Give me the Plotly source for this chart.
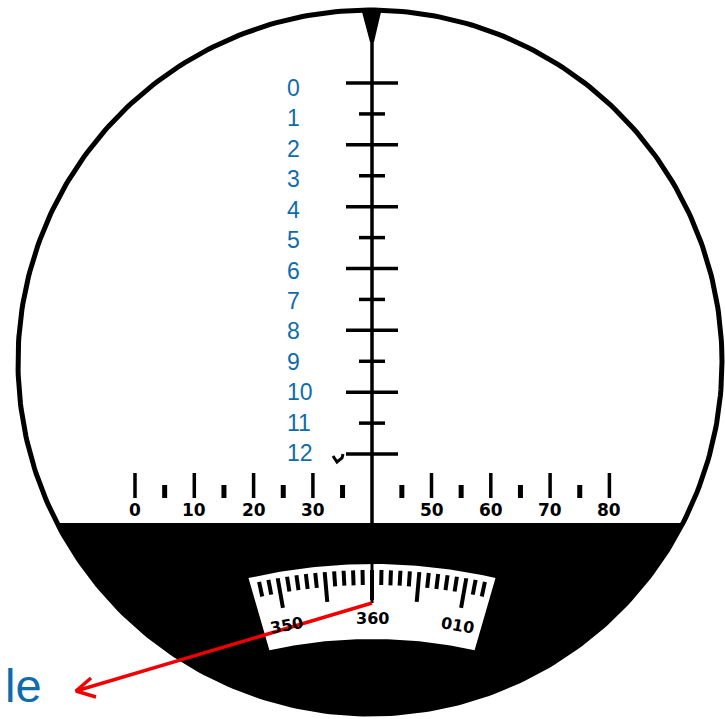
import numpy as np
import plotly.graph_objects as go

# Reticle readings
stadia_labels = ["0", "1", "2", "3", "4", "5", "6", "7", "8", "9", "10", "11", "12"]
stadia_values = [0, 1, 2, 3, 4, 5, 6, 7, 8, 9, 10, 11, 12]
range_major = [0, 10, 20, 30, 50, 60, 70, 80]
range_minor = [5, 15, 25, 35, 45, 55, 65, 75]
compass_minor = [-12, -11, -9, -8, -7, -6, -4, -3, -2, -1, 1, 2, 3, 4, 6, 7, 8, 9, 11, 12]
compass_major = [-10, -5, 0, 5, 10]
compass_labels = ["350", "360", "010"]
compass_label_deg = [-10, 0, 10]
callout_text = "le"

BLUE = "#0f6cab"
CX, CY, R = 370, 362, 352
AXIS_X, HORIZON = 372, 523
DIAL_Y = 1113


def sy(v):
    return 83 + v * 30.92


def label_y(v):
    return 88 + v * 30.42


def sx(v):
    return 135 + v * 5.93


def dial(r, deg):
    a = np.radians(deg)
    return AXIS_X + r * np.sin(a), DIAL_Y - r * np.cos(a)


fig = go.Figure()


def line(xs, ys, w=3, color="black"):
    fig.add_trace(go.Scatter(x=xs, y=ys, mode="lines", hoverinfo="skip",
                             line=dict(color=color, width=w), showlegend=False))


def fill(xs, ys, color="black"):
    fig.add_trace(go.Scatter(x=xs, y=ys, mode="lines", fill="toself", fillcolor=color,
                             hoverinfo="skip", line=dict(color=color, width=0), showlegend=False))


# Ground (black segment below the horizon)
half = np.degrees(np.arccos((HORIZON - CY) / R))
t = np.radians(np.linspace(-half, half, 200))
fill(CX + R * np.sin(t), CY + R * np.cos(t), "black")

# Field of view
t = np.linspace(0, 2 * np.pi, 400)
line(CX + R * np.cos(t), CY + R * np.sin(t), 5)

# Compass window
d = np.linspace(-13, 13, 60)
top = dial(549, d)
d2 = np.linspace(12.5, -12.5, 60)
bot = dial(474, d2)
fill(np.r_[top[0], bot[0]], np.r_[top[1], bot[1]], "white")
for deg in compass_minor:
    p = dial(np.array([543, 528]), deg)
    line(p[0], p[1], 4)
for deg in compass_major:
    p = dial(np.array([543, 513]), deg)
    line(p[0], p[1], 4)

# Vertical hairline and top pointer
line([AXIS_X, AXIS_X], [12, 523], 3.5)
line([AXIS_X, AXIS_X], [523, 603], 3, "black")
fill([362, 381, 374, 370], [12, 12, 42, 42])

# Stadia ticks
for v in stadia_values:
    hw = 26 if v % 2 == 0 else 13
    line([AXIS_X - hw, AXIS_X + hw], [sy(v), sy(v)], 3.5)

# Small check mark beside the last tick
line([333, 337, 342, 343], [456, 462, 458, 454], 3)

# Range scale
for v in range_major:
    line([sx(v), sx(v)], [473, 498], 3.5)
for v in range_minor:
    line([sx(v), sx(v)], [485, 498], 5)

# Red pointer
line([372, 76], [603, 691], 3.5, "#f00000")
line([91, 76, 96], [678, 691, 697], 3.5, "#f00000")

ann = []
for lab, v in zip(stadia_labels, stadia_values):
    ann.append(dict(x=285, y=label_y(v), text=lab, showarrow=False, xanchor="left", yanchor="middle",
                    font=dict(family="Liberation Sans", size=23, color=BLUE)))
for v in range_major:
    ann.append(dict(x=sx(v), y=510, text=str(v), showarrow=False, xanchor="center", yanchor="middle",
                    font=dict(family="DejaVu Sans", size=17, color="black", weight="bold")))
for lab, deg in zip(compass_labels, compass_label_deg):
    x, y = dial(495, deg)
    ann.append(dict(x=x, y=y, text=lab, showarrow=False, textangle=deg, xanchor="center", yanchor="middle",
                    font=dict(family="DejaVu Sans", size=16, color="black", weight="bold")))
ann.append(dict(x=3, y=685, text=callout_text, showarrow=False, xanchor="left", yanchor="middle",
                font=dict(family="Liberation Sans", size=47, color=BLUE)))

fig.update_layout(
    width=725, height=719, margin=dict(l=0, r=0, t=0, b=0),
    paper_bgcolor="white", plot_bgcolor="white", annotations=ann, showlegend=False,
    xaxis=dict(range=[0, 725], visible=False, fixedrange=True),
    yaxis=dict(range=[719, 0], visible=False, fixedrange=True),
)
fig.write_html("out.html", config={"displayModeBar": False},
               post_script="document.body.style.margin='0';document.body.style.overflow='hidden';")
